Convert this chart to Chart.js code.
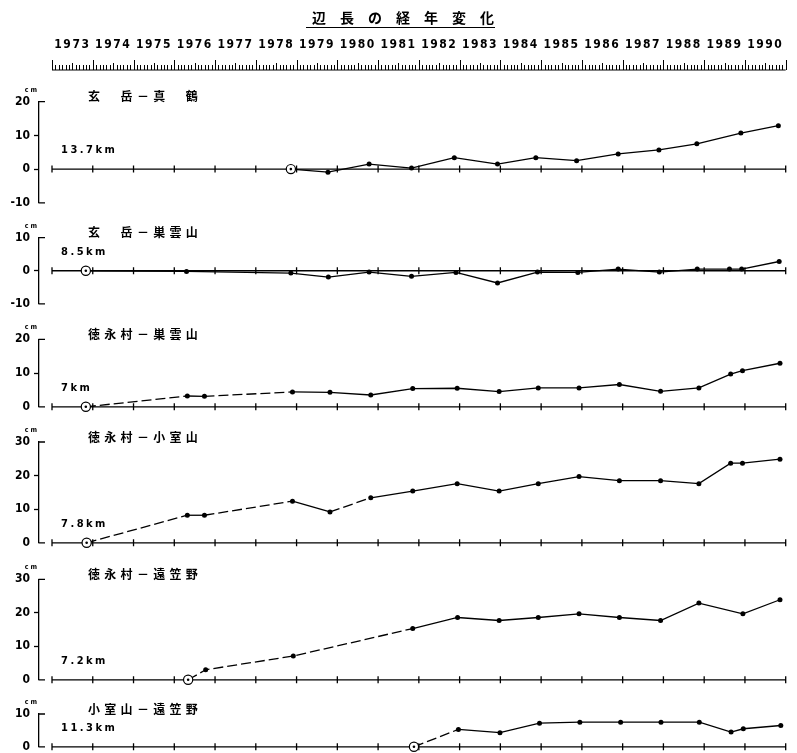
<!DOCTYPE html>
<html>
<head>
<meta charset="utf-8">
<script src="https://cdn.jsdelivr.net/npm/chart.js@4.4.1/dist/chart.umd.min.js"></script>
<style>
  html, body { margin: 0; padding: 0; background: #fff; overflow: hidden; }
  #wrap { position: relative; width: 797px; height: 753px; }
  #wrap canvas { position: absolute; left: 0; }
</style>
</head>
<body>
<div id="wrap"></div>
<script>
// ---- data ----
const titleText = "辺長の経年変化";
const yearLabels = ["1973", "1974", "1975", "1976", "1977", "1978", "1979", "1980", "1981",
  "1982", "1983", "1984", "1985", "1986", "1987", "1988", "1989", "1990"];

const panelNames = ["玄　岳－真　鶴", "玄　岳－巣雲山", "徳永村－巣雲山",
  "徳永村－小室山", "徳永村－遠笠野", "小室山－遠笠野"];
const panelLengths = ["13.7km", "8.5km", "7km", "7.8km", "7.2km", "11.3km"];
const panelMin = [-10, -10, 0, 0, 0, 0];
const panelMax = [20, 10, 20, 30, 30, 10];

// 玄岳-真鶴
const years1 = [1978.86, 1979.77, 1980.78, 1981.82, 1982.87, 1983.93, 1984.87, 1985.87,
  1986.89, 1987.89, 1988.82, 1989.90, 1990.82];
const cm1 = [0, -0.9, 1.5, 0.3, 3.4, 1.5, 3.4, 2.5, 4.5, 5.7, 7.5, 10.7, 12.9];

// 玄岳-巣雲山
const years2 = [1973.83, 1976.30, 1978.86, 1979.78, 1980.78, 1981.82, 1982.91, 1983.93,
  1984.91, 1985.90, 1986.89, 1987.90, 1988.83, 1989.62, 1989.92, 1990.84];
const cm2 = [0, -0.2, -0.7, -1.9, -0.4, -1.7, -0.5, -3.7, -0.4, -0.5, 0.5, -0.4, 0.5, 0.5, 0.5, 2.8];

// 徳永村-巣雲山
const years3 = [1973.83, 1976.32, 1976.74, 1978.90, 1979.82, 1980.82, 1981.85, 1982.94,
  1983.97, 1984.93, 1985.93, 1986.92, 1987.93, 1988.87, 1989.65, 1989.94, 1990.86];
const cm3 = [0, 3.2, 3.1, 4.4, 4.3, 3.5, 5.4, 5.5, 4.5, 5.6, 5.6, 6.6, 4.6, 5.6, 9.7, 10.7, 12.9];

// 徳永村-小室山
const years4 = [1973.85, 1976.32, 1976.74, 1978.90, 1979.82, 1980.82, 1981.85, 1982.94,
  1983.97, 1984.93, 1985.93, 1986.92, 1987.93, 1988.87, 1989.65, 1989.94, 1990.86];
const cm4 = [0, 8.2, 8.2, 12.4, 9.2, 13.4, 15.4, 17.6, 15.4, 17.6, 19.7, 18.5, 18.5, 17.6, 23.7, 23.7, 24.9];

// 徳永村-遠笠野
const years5 = [1976.34, 1976.77, 1978.92, 1981.85, 1982.95, 1983.97, 1984.93, 1985.93,
  1986.92, 1987.93, 1988.87, 1989.95, 1990.86];
const cm5 = [0, 3.0, 7.1, 15.3, 18.6, 17.7, 18.6, 19.7, 18.6, 17.7, 22.9, 19.7, 23.9];

// 小室山-遠笠野
const years6 = [1981.88, 1982.97, 1983.99, 1984.96, 1985.95, 1986.95, 1987.94, 1988.88,
  1989.66, 1989.96, 1990.88];
const cm6 = [0, 5.3, 4.3, 7.2, 7.5, 7.5, 7.5, 7.5, 4.5, 5.5, 6.5];

const panelYears = [years1, years2, years3, years4, years5, years6];
const panelValues = [cm1, cm2, cm3, cm4, cm5, cm6];

/* ============================
   LAYOUT / STYLE
============================ */
const W = 797;
const AXIS_LEFT = 39;          // y axis line
const PLOT_RIGHT = 785.7;      // end of 1990
const FIRST_YEAR = 1973, LAST_YEAR = 1991;
const PX_PER_YEAR = 40.76;
const X_MIN = FIRST_YEAR - (52 - AXIS_LEFT) / PX_PER_YEAR;

const panelTop = [101.7, 237.7, 339.3, 442, 579.3, 714];
const panelBottom = [203.3, 304.3, 407.3, 544, 680.7, 747.7];
const dashedSegs = [[], [], [0, 2], [0, 2, 4], [0, 1, 2], [0]];

const NUM_FONT = "'DejaVu Sans Condensed', 'DejaVu Sans', sans-serif";
const CJK_FONT = "'Noto Sans CJK JP', 'Noto Sans CJK SC', sans-serif";

Chart.defaults.font.family = NUM_FONT;
Chart.defaults.font.weight = "bold";
Chart.defaults.color = "#000";

const wrap = document.getElementById("wrap");
function makeCanvas(top, height) {
  const c = document.createElement("canvas");
  c.width = W;
  c.height = height;
  c.style.top = top + "px";
  wrap.appendChild(c);
  return c;
}

/* === TOP: title + year ruler === */
const rulerPlugin = {
  id: "ruler",
  beforeDraw(chart) {
    // wider spacing for the year labels
    chart.ctx.letterSpacing = "1.5px";
  },
  afterDraw(chart) {
    const { ctx, chartArea } = chart;
    const x = chart.scales.x;
    ctx.letterSpacing = "0px";
    ctx.save();
    // title
    ctx.font = "bold 14px " + CJK_FONT;
    ctx.letterSpacing = "14px";
    ctx.textBaseline = "middle";
    ctx.textAlign = "left";
    ctx.fillStyle = "#000";
    ctx.fillText(titleText, 312, 18);
    ctx.letterSpacing = "0px";
    ctx.strokeStyle = "#000";
    ctx.lineWidth = 1.2;
    ctx.beginPath();
    ctx.moveTo(306, 27.5);
    ctx.lineTo(495, 27.5);
    ctx.stroke();

    // ruler
    const yb = chartArea.bottom;
    ctx.lineWidth = 1;
    ctx.beginPath();
    ctx.moveTo(x.getPixelForValue(FIRST_YEAR), yb);
    ctx.lineTo(x.getPixelForValue(LAST_YEAR), yb);
    for (let m = 0; m <= (LAST_YEAR - FIRST_YEAR) * 12; m++) {
      const px = Math.round(x.getPixelForValue(FIRST_YEAR + m / 12)) + 0.5;
      const len = m % 12 === 0 ? 10 : (m % 6 === 0 ? 7 : 5);
      ctx.moveTo(px, yb);
      ctx.lineTo(px, yb - len);
    }
    ctx.stroke();
    ctx.restore();
  },
};

new Chart(makeCanvas(0, 72), {
  type: "line",
  data: { datasets: [] },
  options: {
    responsive: false,
    animation: false,
    events: [],
    layout: { padding: { top: 0, left: AXIS_LEFT, right: W - PLOT_RIGHT, bottom: 2 } },
    plugins: { legend: { display: false }, tooltip: { enabled: false } },
    scales: {
      x: {
        type: "linear",
        position: "top",
        min: X_MIN,
        max: LAST_YEAR,
        afterBuildTicks: (s) => {
          s.ticks = yearLabels.map((l, i) => ({ value: FIRST_YEAR + i + 0.5 }));
        },
        afterFit: (s) => { s.height = 58; },
        grid: { display: false, drawTicks: false },
        border: { display: false },
        ticks: {
          autoSkip: false,
          maxRotation: 0,
          minRotation: 0,
          padding: 6,
          font: { size: 12, weight: "bold" },
          callback: (v, i) => yearLabels[i],
        },
      },
      y: { display: false, min: 0, max: 1 },
    },
  },
  plugins: [rulerPlugin],
});

/* === PANELS === */
const panelPlugin = {
  id: "panelDecor",
  beforeDatasetsDraw(chart, args, opts) {
    const { ctx, chartArea } = chart;
    const x = chart.scales.x, y = chart.scales.y;
    const y0 = y.getPixelForValue(0);
    ctx.save();
    ctx.strokeStyle = "#000";
    ctx.lineWidth = 1.3;
    ctx.beginPath();
    // baseline with year ticks
    ctx.moveTo(x.getPixelForValue(FIRST_YEAR), y0);
    ctx.lineTo(x.getPixelForValue(LAST_YEAR), y0);
    for (let yr = FIRST_YEAR; yr <= LAST_YEAR; yr++) {
      const px = x.getPixelForValue(yr);
      ctx.moveTo(px, y0 - 3.5);
      ctx.lineTo(px, y0 + 3.5);
    }
    // bracket ends of the y axis
    [y.max, y.min].forEach((v) => {
      const py = y.getPixelForValue(v);
      ctx.moveTo(chartArea.left - 0.6, py);
      ctx.lineTo(chartArea.left + 6, py);
    });
    ctx.stroke();

    ctx.fillStyle = "#000";
    ctx.textBaseline = "middle";
    // unit
    ctx.font = "bold 7px " + NUM_FONT;
    ctx.letterSpacing = "2px";
    ctx.textAlign = "center";
    ctx.fillText("cm", 32, chartArea.top - 12);
    // pair name
    ctx.font = "bold 12px " + CJK_FONT;
    ctx.letterSpacing = "4.3px";
    ctx.textAlign = "left";
    ctx.fillText(opts.name, 88, chartArea.top - 5);
    // baseline length
    ctx.font = "bold 11px " + NUM_FONT;
    ctx.letterSpacing = "2.5px";
    ctx.fillText(opts.length, 61, y0 - 19);
    ctx.letterSpacing = "0px";
    ctx.restore();
  },
};

panelNames.forEach((name, i) => {
  const PAD_T = 22, PAD_B = 10;
  const top = Math.floor(panelTop[i]) - PAD_T;
  const height = Math.ceil(panelBottom[i]) + PAD_B - top;
  const pts = panelYears[i].map((yr, k) => ({ x: yr, y: panelValues[i][k] }));
  const dashSet = dashedSegs[i];

  new Chart(makeCanvas(top, height), {
    type: "line",
    data: {
      datasets: [
        {
          // centre dot of the reference mark
          data: [pts[0]],
          showLine: false,
          pointRadius: 1.3,
          pointBackgroundColor: "#000",
          pointBorderWidth: 0,
          clip: false,
        },
        {
          data: pts,
          borderColor: "#000",
          borderWidth: 1.3,
          tension: 0,
          clip: false,
          pointRadius: (c) => (c.dataIndex === 0 ? 4.6 : 2.5),
          pointBackgroundColor: (c) => (c.dataIndex === 0 ? "#fff" : "#000"),
          pointBorderColor: "#000",
          pointBorderWidth: (c) => (c.dataIndex === 0 ? 1.2 : 0),
          segment: {
            borderDash: (c) => (dashSet.includes(c.p0DataIndex) ? [10, 4] : undefined),
          },
        },
      ],
    },
    options: {
      responsive: false,
      animation: false,
      events: [],
      layout: {
        padding: {
          top: panelTop[i] - top,
          bottom: top + height - panelBottom[i],
          left: 0,
          right: W - PLOT_RIGHT,
        },
      },
      plugins: {
        legend: { display: false },
        tooltip: { enabled: false },
        panelDecor: { name: name, length: panelLengths[i] },
      },
      scales: {
        x: { type: "linear", display: false, min: X_MIN, max: LAST_YEAR },
        y: {
          min: panelMin[i],
          max: panelMax[i],
          afterFit: (s) => { s.width = AXIS_LEFT; },
          border: { display: true, color: "#000", width: 1.3 },
          grid: {
            drawOnChartArea: false,
            tickLength: 5,
            tickWidth: 1.3,
            tickColor: (c) =>
              c.tick && (c.tick.value === panelMin[i] || c.tick.value === panelMax[i])
                ? "rgba(0,0,0,0)" : "#000",
          },
          ticks: {
            stepSize: 10,
            padding: 4,
            font: { size: 12, weight: "bold" },
          },
        },
      },
    },
    plugins: [panelPlugin],
  });
});
</script>
</body>
</html>
